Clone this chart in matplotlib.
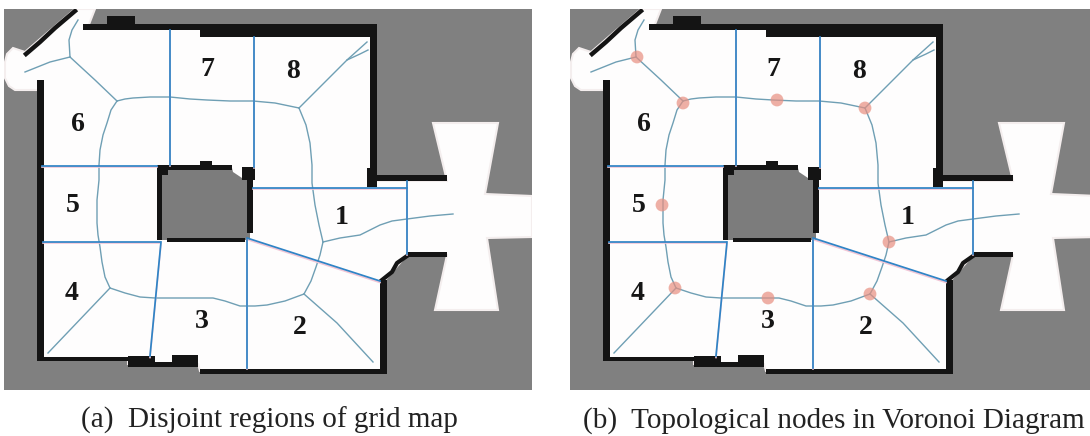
import matplotlib
matplotlib.use("Agg")
import matplotlib.pyplot as plt
from matplotlib.patches import Rectangle, Polygon

# everything below is in map pixels (y grows downward)
free_space = [(75, 9), (95, 9), (88, 27), (372, 27), (372, 181), (447, 181), (433, 123), (498, 123),
              (485, 194), (532, 196), (532, 237), (487, 238), (498, 310), (435, 310), (447, 255),
              (407, 255), (385, 280), (385, 371), (200, 371), (198, 364), (128, 364), (128, 358),
              (40, 358), (40, 90), (15, 90), (9, 86), (5, 78), (5, 62), (7, 54), (13, 48), (25, 52)]
room = [(160, 168), (232, 168), (233, 172), (242, 178), (250, 180), (250, 240), (160, 240)]

# x0, y0, x1, y1
wall_boxes = [(83, 24, 200, 30), (200, 24, 377, 37), (107, 16, 135, 24), (370, 24, 377, 175),
              (367, 168, 377, 187), (367, 175, 447, 181), (407, 252, 447, 257), (380, 280, 387, 374),
              (200, 369, 387, 374), (37, 357, 130, 361), (37, 80, 44, 361), (128, 356, 155, 367),
              (172, 355, 198, 367), (155, 362, 172, 367), (157, 165, 232, 170), (157, 165, 168, 175),
              (157, 165, 162, 240), (242, 167, 255, 180), (247, 180, 253, 233), (167, 238, 245, 242),
              (200, 161, 212, 165)]
diag_wall = [(26, 54), (40, 42), (55, 28), (75, 11)]
corner_wall = [(407, 256), (397, 263), (392, 272), (382, 280)]

# partitions
blue_lines = [[(170, 30), (170, 165)], [(254, 37), (254, 167)], [(42, 166), (157, 166)],
              [(43, 242), (160, 242)], [(161, 242), (150, 356)], [(247, 240), (247, 368)],
              [(247, 238), (380, 281)], [(407, 181), (407, 254)], [(253, 188), (407, 188)]]

# Voronoi curves
voronoi_lines = [[(78, 20), (72, 30), (69, 40), (70, 57)],
                 [(70, 57), (50, 62), (35, 68), (25, 72)],
                 [(70, 57), (95, 80), (117, 101)],
                 [(117, 101), (125, 99), (133, 98), (150, 97), (170, 97), (190, 99), (207, 100),
                  (230, 101), (253, 101), (275, 103), (299, 108)],
                 [(117, 101), (111, 110), (107, 123), (103, 135), (100, 150), (99, 165), (99, 180),
                  (97, 200), (97, 223), (98, 235), (100, 247), (102, 262), (105, 277), (110, 288)],
                 [(110, 288), (125, 293), (140, 297), (155, 298), (185, 298), (213, 298), (225, 301),
                  (240, 306), (255, 306), (267, 305), (285, 301), (304, 294)],
                 [(304, 294), (311, 281), (316, 267), (320, 255), (323, 242)],
                 [(323, 242), (319, 225), (315, 205), (312, 183), (312, 165), (310, 143), (306, 125), (299, 108)],
                 [(299, 108), (329, 78), (347, 60), (367, 42)],
                 [(347, 60), (360, 54), (368, 50)],
                 [(323, 242), (340, 238), (360, 235), (370, 230), (380, 225), (392, 221), (407, 219),
                  (430, 216), (453, 214)],
                 [(304, 294), (337, 323), (373, 362)],
                 [(110, 288), (48, 353)]]

region_labels = ["1", "2", "3", "4", "5", "6", "7", "8"]
label_x = [342, 300, 202, 72, 73, 78, 207, 293]
label_y = [217, 328, 322, 293, 205, 125, 70, 72]

node_x = [71, 117, 211, 299, 96, 109, 202, 304, 323]
node_y = [57, 103, 100, 108, 205, 288, 298, 294, 242]

captions = ["(a)  Disjoint regions of grid map", "(b)  Topological nodes in Voronoi Diagram"]


def draw_map(ax):
    ax.set_facecolor("#808080")
    ax.add_patch(Polygon(free_space, closed=True, fc="#fefdfd", ec="#f4eeee", lw=1.5, zorder=1))
    ax.add_patch(Polygon(room, closed=True, fc="#7c7c7c", ec="none", zorder=1.5))

    for x0, y0, x1, y1 in wall_boxes:
        ax.add_patch(Rectangle((x0, y0), x1 - x0, y1 - y0, fc="#141414", ec="none", zorder=2))
    ax.plot(*zip(*diag_wall), color="#141414", lw=3.2, zorder=2)
    ax.plot(*zip(*corner_wall), color="#141414", lw=3, zorder=2)

    for line in voronoi_lines:
        ax.plot(*zip(*line), color="#6f9fb4", lw=1.0, solid_joinstyle="round", zorder=3)
    for line in blue_lines:
        xs, ys = zip(*line)
        ax.plot(xs, [y + 1.5 for y in ys], color="#f2c6d6", lw=1.2, zorder=3)
        ax.plot(xs, ys, color="#2f84c6", lw=1.25, zorder=3.5)

    for txt, x, y in zip(region_labels, label_x, label_y):
        ax.text(x, y, txt, fontsize=20, family="Liberation Serif", fontweight="bold",
                color="#161616", ha="center", va="center", zorder=5)

    ax.set_xticks([])
    ax.set_yticks([])
    for sp in ax.spines.values():
        sp.set_visible(False)


fig = plt.figure(figsize=(10.9, 4.36), dpi=100)
W, H = 1090.0, 436.0

# panel a: 4..532 px, panel b: 570..1090 px (right side cut off)
ax_a = fig.add_axes([4 / W, 1 - 390 / H, 528 / W, 381 / H])
ax_a.set_xlim(4, 532)
ax_a.set_ylim(390, 9)
draw_map(ax_a)

ax_b = fig.add_axes([570 / W, 1 - 390 / H, 520 / W, 381 / H])
ax_b.set_xlim(4, 524)
ax_b.set_ylim(390, 9)
draw_map(ax_b)
ax_b.scatter(node_x, node_y, s=85, color="#e88f80", alpha=0.7, edgecolors="none", zorder=4)

fig.text(81 / W, 1 - 428 / H, captions[0], fontsize=21, family="Liberation Serif",
         color="#222222", ha="left", va="baseline")
fig.text(583 / W, 1 - 428 / H, captions[1], fontsize=21, family="Liberation Serif",
         color="#222222", ha="left", va="baseline")

fig.savefig("out.png", dpi=100)
